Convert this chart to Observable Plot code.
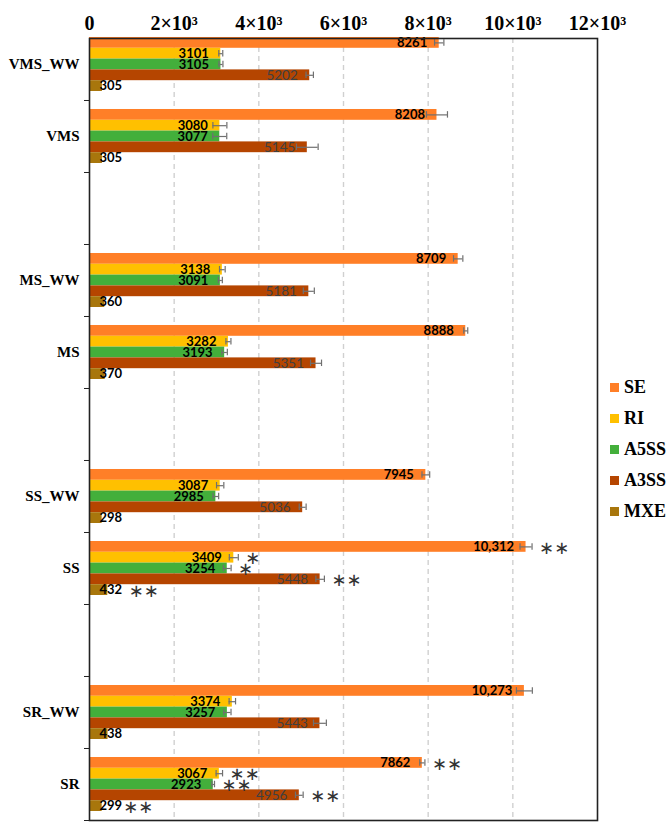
<!DOCTYPE html>
<html>
<head>
<meta charset="utf-8">
<script src="https://cdn.jsdelivr.net/npm/d3@7"></script>
<script src="https://cdn.jsdelivr.net/npm/@observablehq/plot@0.6"></script>
<style>
  html, body { margin: 0; padding: 0; background: #fff; }
  #wrap { position: relative; width: 670px; height: 833px; }
  #legend { position: absolute; left: 610px; top: 372px; font-family: "Liberation Serif", serif; font-weight: bold; font-size: 18px; color: #000; }
  #legend .item { display: flex; align-items: center; height: 31px; }
  #legend .sw { width: 9px; height: 9px; margin-right: 5px; }
</style>
</head>
<body>
<div id="wrap"></div>
<script>
// ---- data ----
const categories = ["VMS_WW", "VMS", "", "MS_WW", "MS", "", "SS_WW", "SS", "", "SR_WW", "SR"];
const seriesNames = ["SE", "RI", "A5SS", "A3SS", "MXE"];
const seriesColors = ["#FF7F27", "#FFC000", "#43AF3B", "#B54500", "#A8760C"];

const SE   = [8261, 8208, null, 8709, 8888, null, 7945, 10312, null, 10273, 7862];
const RI   = [3101, 3080, null, 3138, 3282, null, 3087, 3409, null, 3374, 3067];
const A5SS = [3105, 3077, null, 3091, 3193, null, 2985, 3254, null, 3257, 2923];
const A3SS = [5202, 5145, null, 5181, 5351, null, 5036, 5448, null, 5443, 4956];
const MXE  = [305, 305, null, 360, 370, null, 298, 432, null, 438, 299];

const SE_err   = [110, 248, null, 110, 47, null, 91, 142, null, 188, 61];
const RI_err   = [47, 165, null, 67, 59, null, 86, 106, null, 76, 76];
const A5SS_err = [47, 165, null, 47, 63, null, 66, 91, null, 86, 30];
const A3SS_err = [87, 256, null, 130, 130, null, 81, 101, null, 152, 91];
const MXE_err  = [null, null, null, null, null, null, null, null, null, null, null];

const significance = [
  {category: "SS", series: "SE", mark: "**"},
  {category: "SS", series: "RI", mark: "*"},
  {category: "SS", series: "A5SS", mark: "*"},
  {category: "SS", series: "A3SS", mark: "**"},
  {category: "SS", series: "MXE", mark: "**"},
  {category: "SR", series: "SE", mark: "**"},
  {category: "SR", series: "RI", mark: "**"},
  {category: "SR", series: "A5SS", mark: "**"},
  {category: "SR", series: "A3SS", mark: "**"},
  {category: "SR", series: "MXE", mark: "**"}
];

const xTicks = [0, 2000, 4000, 6000, 8000, 10000, 12000];
const xTickLabels = ["0", "2×10³", "4×10³", "6×10³", "8×10³", "10×10³", "12×10³"];

// ---- build rows ----
const seriesValues = [SE, RI, A5SS, A3SS, MXE];
const seriesErr = [SE_err, RI_err, A5SS_err, A3SS_err, MXE_err];
const rows = categories.flatMap((c, k) => c ? seriesNames.map((s, i) => ({
  category: c, k, series: s, i, value: seriesValues[i][k], err: seriesErr[i][k]
})) : []);

const HALF = 0.375, BAR = 2 * HALF / seriesNames.length, CAP = 0.045;
const y1 = d => d.k - HALF + d.i * BAR;
const y2 = d => y1(d) + BAR;
const yc = d => y1(d) + BAR / 2;
const fmt = v => v >= 10000 ? d3.format(",")(v) : String(v);

const errRows = rows.filter(d => d.err != null);
const starRows = significance.map(s => {
  const r = rows.find(d => d.category === s.category && d.series === s.series);
  return {...r, mark: s.mark.replace(/\*/g, "∗")};
});

const labelIdx = categories.map((c, k) => c ? k : null).filter(k => k != null);
const boundaries = d3.range(categories.length).map(k => k + 0.5);

const labelFont = "Lato, 'Noto Sans', sans-serif";

const chart = Plot.plot({
  width: 670,
  height: 833,
  marginLeft: 89,
  marginRight: 73,
  marginTop: 38,
  marginBottom: 13,
  style: {background: "white", overflow: "visible"},
  x: {domain: [0, 12000], axis: null, label: null},
  y: {type: "linear", domain: [-0.361, 10.5], reverse: true, axis: null, label: null},
  color: {domain: seriesNames, range: seriesColors},
  marks: [
    Plot.ruleX(xTicks.filter(v => v > 0 && v < 12000), {stroke: "#d0d0d0", strokeWidth: 1.4, strokeDasharray: "5,4"}),
    Plot.rect(rows, {x1: 0, x2: "value", y1, y2, fill: "series"}),
    Plot.text(rows.filter(d => d.series !== "MXE" && d.series !== "A3SS"), {
      x: "value", y: yc, text: d => fmt(d.value), textAnchor: "end", dx: -12,
      fontSize: 13, fontWeight: "bold", fontFamily: labelFont, fill: "#000"
    }),
    Plot.text(rows.filter(d => d.series === "A3SS"), {
      x: "value", y: yc, text: d => fmt(d.value), textAnchor: "end", dx: -12,
      fontSize: 13.5, fontWeight: "normal", fontFamily: labelFont, fill: "#404040"
    }),
    Plot.text(rows.filter(d => d.series === "MXE"), {
      x: 0, y: yc, text: d => fmt(d.value), textAnchor: "start", dx: 10,
      fontSize: 13, fontWeight: "bold", fontFamily: labelFont, fill: "#000"
    }),
    Plot.ruleY(errRows, {y: yc, x1: d => d.value - d.err, x2: d => d.value + d.err, stroke: "#707070", strokeWidth: 1.2}),
    Plot.ruleX(errRows, {x: d => d.value - d.err, y1: d => yc(d) - CAP, y2: d => yc(d) + CAP, stroke: "#707070", strokeWidth: 1.2}),
    Plot.ruleX(errRows, {x: d => d.value + d.err, y1: d => yc(d) - CAP, y2: d => yc(d) + CAP, stroke: "#707070", strokeWidth: 1.2}),
    Plot.text(starRows.filter(d => d.series !== "MXE"), {
      x: d => d.value + (d.err || 0), y: yc, text: "mark", textAnchor: "start", dx: 7, dy: 1,
      fontSize: 18, fontFamily: "DejaVu Sans", fill: "#333", letterSpacing: "-4px"
    }),
    Plot.text(starRows.filter(d => d.series === "MXE"), {
      x: d => d.value, y: yc, text: "mark", textAnchor: "start", dx: 21, dy: 1,
      fontSize: 18, fontFamily: "DejaVu Sans", fill: "#333", letterSpacing: "-4px"
    }),
    Plot.axisX(xTicks, {
      anchor: "top", tickSize: 0, tickPadding: 9, label: null,
      tickFormat: d => xTickLabels[xTicks.indexOf(d)],
      fontSize: 20, fontWeight: "bold", fontFamily: "Liberation Serif", fill: "#000"
    }),
    Plot.axisY(labelIdx, {
      anchor: "left", tickSize: 0, tickPadding: 10, label: null,
      tickFormat: k => categories[k],
      fontSize: 15, fontWeight: "bold", fontFamily: "Liberation Serif", fill: "#000"
    }),
    Plot.axisY(boundaries, {anchor: "left", tickSize: 5, tickFormat: () => "", label: null, stroke: "#222"}),
    Plot.frame({stroke: "#222", strokeWidth: 1.6})
  ]
});

const wrap = document.getElementById("wrap");
wrap.appendChild(chart);

const legend = document.createElement("div");
legend.id = "legend";
seriesNames.forEach((s, i) => {
  const item = document.createElement("div");
  item.className = "item";
  const sw = document.createElement("span");
  sw.className = "sw";
  sw.style.background = seriesColors[i];
  const t = document.createElement("span");
  t.textContent = s;
  item.appendChild(sw);
  item.appendChild(t);
  legend.appendChild(item);
});
wrap.appendChild(legend);
</script>
</body>
</html>
